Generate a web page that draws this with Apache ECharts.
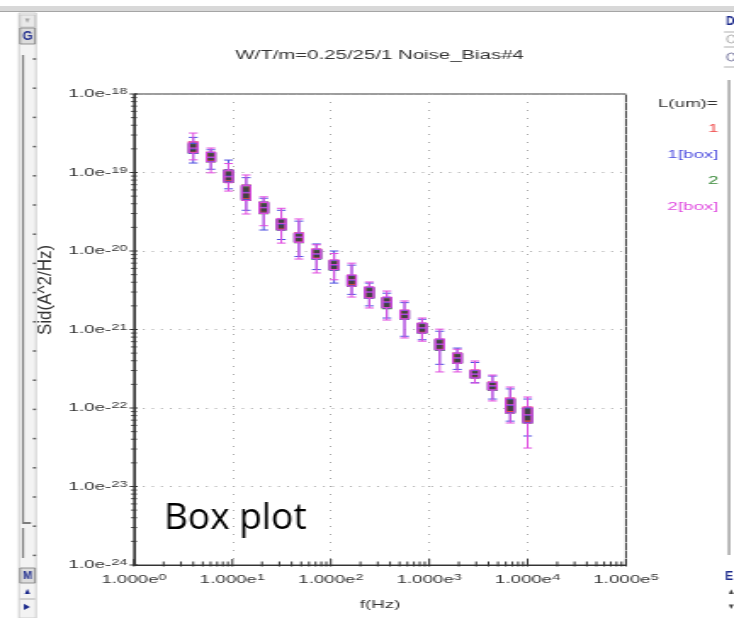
<!DOCTYPE html>
<html>
<head>
<meta charset="utf-8">
<script src="https://cdn.jsdelivr.net/npm/echarts@6/dist/echarts.min.js"></script>
<style>
  html, body { margin: 0; padding: 0; background: #fff; overflow: hidden; }
  #wrap { width: 734px; height: 618px; overflow: hidden; }
  /* the plot window is drawn narrow and widened, as the measurement tool shows it */
  #chart { width: 432px; height: 618px; transform: scaleX(1.699074); transform-origin: 0 0; }
</style>
</head>
<body>
<div id="wrap"><div id="chart"></div></div>
<script>
// horizontal widening of the plot window
const STRETCH = 734 / 432;

// measurement frequencies (Hz)
const freqs = [4, 6.04, 9.12, 13.8, 20.8, 31.4, 47.4, 71.5, 108, 163,
               246, 371, 561, 847, 1279, 1930, 2914, 4400, 6643, 10000];

// L = 1 um, box statistics: [min, Q1, median, Q3, max]  (A^2/Hz)
const boxL1 = [
  [1.32e-19, 1.75e-19, 2.0e-19, 2.35e-19, 2.8e-19],
  [1.1e-19, 1.38e-19, 1.55e-19, 1.8e-19, 1.95e-19],
  [6.2e-20, 7.6e-20, 9.0e-20, 1.08e-19, 1.44e-19],
  [3.3e-20, 4.5e-20, 5.6e-20, 6.9e-20, 8.6e-20],
  [1.85e-20, 3.05e-20, 3.6e-20, 4.2e-20, 4.7e-20],
  [1.4e-20, 1.85e-20, 2.2e-20, 2.55e-20, 3.3e-20],
  [8.5e-21, 1.3e-20, 1.5e-20, 1.68e-20, 2.4e-20],
  [5.8e-21, 7.9e-21, 9.1e-21, 1.05e-20, 1.23e-20],
  [3.9e-21, 5.7e-21, 6.6e-21, 7.6e-21, 1.0e-20],
  [2.8e-21, 3.6e-21, 4.25e-21, 4.9e-21, 6.6e-21],
  [2.0e-21, 2.5e-21, 3.0e-21, 3.45e-21, 3.9e-21],
  [1.4e-21, 1.88e-21, 2.2e-21, 2.55e-21, 2.9e-21],
  [8.2e-22, 1.36e-21, 1.55e-21, 1.75e-21, 2.2e-21],
  [7.4e-22, 9.0e-22, 1.04e-21, 1.2e-21, 1.35e-21],
  [3.6e-22, 5.5e-22, 6.5e-22, 7.5e-22, 9.5e-22],
  [3.1e-22, 3.75e-22, 4.3e-22, 5.0e-22, 5.8e-22],
  [2.1e-22, 2.42e-22, 2.7e-22, 3.0e-22, 3.8e-22],
  [1.3e-22, 1.7e-22, 1.9e-22, 2.12e-22, 2.55e-22],
  [6.8e-23, 8.7e-23, 1.08e-22, 1.3e-22, 1.75e-22],
  [4.4e-23, 6.5e-23, 8.1e-23, 1.0e-22, 1.3e-22]
];

// L = 2 um, box statistics: [min, Q1, median, Q3, max]
const boxL2 = [
  [1.45e-19, 1.78e-19, 2.05e-19, 2.45e-19, 3.18e-19],
  [9.9e-20, 1.36e-19, 1.57e-19, 1.82e-19, 2.05e-19],
  [5.8e-20, 7.4e-20, 8.8e-20, 1.05e-19, 1.3e-19],
  [2.96e-20, 4.4e-20, 5.5e-20, 6.8e-20, 9.3e-20],
  [2.1e-20, 3.0e-20, 3.55e-20, 4.15e-20, 4.9e-20],
  [1.26e-20, 1.85e-20, 2.25e-20, 2.6e-20, 3.5e-20],
  [7.9e-21, 1.28e-20, 1.5e-20, 1.7e-20, 2.56e-20],
  [5.25e-21, 8.0e-21, 9.2e-21, 1.06e-20, 1.2e-20],
  [4.3e-21, 5.8e-21, 6.7e-21, 7.7e-21, 9.3e-21],
  [2.59e-21, 3.55e-21, 4.3e-21, 4.95e-21, 7.0e-21],
  [1.88e-21, 2.52e-21, 3.0e-21, 3.5e-21, 4.03e-21],
  [1.32e-21, 1.9e-21, 2.25e-21, 2.6e-21, 3.09e-21],
  [7.8e-22, 1.36e-21, 1.57e-21, 1.77e-21, 2.31e-21],
  [7.1e-22, 9.0e-22, 1.05e-21, 1.21e-21, 1.4e-21],
  [2.88e-22, 5.5e-22, 6.5e-22, 7.6e-22, 1.01e-21],
  [2.88e-22, 3.7e-22, 4.35e-22, 5.0e-22, 5.6e-22],
  [2.08e-22, 2.4e-22, 2.7e-22, 3.05e-22, 3.97e-22],
  [1.23e-22, 1.69e-22, 1.92e-22, 2.14e-22, 2.63e-22],
  [6.44e-23, 8.6e-23, 1.1e-22, 1.34e-22, 1.85e-22],
  [3.09e-23, 6.4e-23, 8.2e-23, 1.03e-22, 1.38e-22]
];

// raw spread of the measured dies, [low, high]
const rawL1 = [
  [1.8e-19, 2.45e-19], [1.4e-19, 1.8e-19], [7.8e-20, 1.08e-19], [4.6e-20, 6.9e-20],
  [3.1e-20, 4.2e-20], [1.9e-20, 2.55e-20], [1.32e-20, 1.7e-20], [8.1e-21, 1.06e-20],
  [5.8e-21, 7.6e-21], [3.7e-21, 4.9e-21], [2.55e-21, 3.45e-21], [1.9e-21, 2.55e-21],
  [1.38e-21, 1.76e-21], [9.2e-22, 1.2e-21], [5.6e-22, 7.5e-22], [3.8e-22, 5.0e-22],
  [2.45e-22, 3.05e-22], [1.72e-22, 2.14e-22], [9.0e-23, 1.34e-22], [6.8e-23, 1.03e-22]
];
const rawL2 = [
  [1.75e-19, 2.3e-19], [1.36e-19, 1.75e-19], [7.5e-20, 1.02e-19], [4.4e-20, 6.5e-20],
  [3.0e-20, 4.0e-20], [1.84e-20, 2.5e-20], [1.28e-20, 1.65e-20], [7.9e-21, 1.02e-20],
  [5.7e-21, 7.4e-21], [3.55e-21, 4.8e-21], [2.5e-21, 3.35e-21], [1.85e-21, 2.5e-21],
  [1.35e-21, 1.72e-21], [9.0e-22, 1.17e-21], [5.4e-22, 7.3e-22], [3.7e-22, 4.85e-22],
  [2.4e-22, 2.95e-22], [1.68e-22, 2.1e-22], [8.6e-23, 1.28e-22], [6.4e-23, 9.8e-23]
];

// axis ranges (exponents of ten)
const xExpRange = [0, 5];
const yExpRange = [-24, -18];

const seriesNames = ['1', '1[box]', '2', '2[box]'];
const seriesColors = ['#f04a4a', '#5050e0', '#3a8a3a', '#e04ce0'];

// the y axis works in units of 1e-24 A^2/Hz to keep the log scale well inside float range
const UNIT_EXP = yExpRange[0];
const Y_UNIT = Math.pow(10, UNIT_EXP);
const toUnit = v => v / Y_UNIT;

const FONT = '"Liberation Sans", Arial, sans-serif';
const TEXT = '#333';

// decade and 2..9 tick values of a log axis
function logTickValues(lo, hi) {
  const out = [];
  for (let e = lo; e < hi; e++) {
    for (let m = 1; m <= 9; m++) out.push([m * Math.pow(10, e), m === 1 ? 1 : 0]);
  }
  out.push([Math.pow(10, hi), 1]);
  return out;
}
const xMin = Math.pow(10, xExpRange[0]), xMax = Math.pow(10, xExpRange[1]);
const yMin = Math.pow(10, yExpRange[0] - UNIT_EXP), yMax = Math.pow(10, yExpRange[1] - UNIT_EXP);
const xTickData = logTickValues(xExpRange[0], xExpRange[1]).map(t => [t[0], yMin, t[1]]);
const yTickData = logTickValues(yExpRange[0] - UNIT_EXP, yExpRange[1] - UNIT_EXP).map(t => [xMin, t[0], t[1]]);

function expOf(v) { return Math.round(Math.log10(v)); }

const xAxisBase = { type: 'log', logBase: 10, min: xMin, max: xMax, splitNumber: 5, gridIndex: 0 };

// mantissa plus small raised exponent
const labelRich = {
  b: { fontFamily: FONT, fontSize: 11, color: TEXT },
  s: { fontFamily: FONT, fontSize: 8.5, color: TEXT, padding: [0, 0, 4, 0] }
};

// interquartile bar of the raw data
function rawBoxRenderer(fill, stroke) {
  return function (params, api) {
    const lo = api.coord([api.value(0), api.value(1)]);
    const hi = api.coord([api.value(0), api.value(2)]);
    return {
      type: 'rect',
      shape: { x: lo[0] - 2.4, y: hi[1], width: 4.8, height: lo[1] - hi[1] },
      style: { fill: fill, stroke: stroke, lineWidth: 1.2 }
    };
  };
}

function tickRenderer(vertical) {
  return function (params, api) {
    const p = api.coord([api.value(0), api.value(1)]);
    const major = api.value(2) === 1;
    const shape = vertical
      ? { x1: p[0], y1: p[1] - (major ? 6 : 3.5), x2: p[0], y2: p[1] + 1.5 }
      : { x1: p[0] - (major ? 2.6 : 1.7), y1: p[1], x2: p[0] + (major ? 2.2 : 1.7), y2: p[1] };
    return { type: 'line', shape: shape, style: { stroke: '#333', lineWidth: 1 } };
  };
}

// window chrome around the plot, in screen pixels
function chrome() {
  const navy = '#1c2a8c';
  const kids = [
    { type: 'rect', shape: { x: 0, y: 6, width: 734, height: 5 }, style: { fill: '#d8d8d8' } },
    { type: 'line', shape: { x1: 0, y1: 11.5, x2: 734, y2: 11.5 }, style: { stroke: '#8e8e8e', lineWidth: 1 } },
    // left tool strip
    { type: 'rect', shape: { x: 19, y: 13, width: 17, height: 605 }, style: { fill: '#f3f3f3', stroke: '#c4c4c4', lineWidth: 1 } },
    { type: 'rect', shape: { x: 20, y: 15, width: 15, height: 12 }, style: { fill: '#e9e9e9', stroke: '#c0c0c0' } },
    { type: 'text', style: { x: 27.5, y: 21, text: '▼', fill: '#a8a8a8', font: '8px ' + FONT, align: 'center', verticalAlign: 'middle' } },
    { type: 'rect', shape: { x: 20, y: 28, width: 15, height: 16 }, style: { fill: '#dcdcdc', stroke: '#7a7a7a' } },
    { type: 'text', style: { x: 27.5, y: 36.5, text: 'G', fill: navy, font: 'bold 13px ' + FONT, align: 'center', verticalAlign: 'middle' } },
    { type: 'polyline', shape: { points: [[23, 55], [23, 523], [31, 523]] }, style: { stroke: '#7d7d7d', lineWidth: 2 } },
    { type: 'line', shape: { x1: 23, y1: 528, x2: 23, y2: 558 }, style: { stroke: '#7d7d7d', lineWidth: 2 } },
    { type: 'rect', shape: { x: 20, y: 568, width: 15, height: 15 }, style: { fill: '#dcdcdc', stroke: '#7a7a7a' } },
    { type: 'text', style: { x: 27.5, y: 576, text: 'M', fill: navy, font: 'bold 11px ' + FONT, align: 'center', verticalAlign: 'middle' } },
    { type: 'text', style: { x: 27.5, y: 592, text: '▲', fill: navy, font: '9px ' + FONT, align: 'center', verticalAlign: 'middle' } },
    { type: 'line', shape: { x1: 20, y1: 599, x2: 35, y2: 599 }, style: { stroke: '#9a9a9a' } },
    { type: 'text', style: { x: 27.5, y: 607, text: '▶', fill: navy, font: '8px ' + FONT, align: 'center', verticalAlign: 'middle' } },
    // right panel edge
    { type: 'text', style: { x: 726, y: 22, text: 'D', fill: navy, font: 'bold 12px ' + FONT, verticalAlign: 'middle' } },
    { type: 'line', shape: { x1: 724, y1: 32, x2: 734, y2: 32 }, style: { stroke: '#9a9a9a' } },
    { type: 'circle', shape: { cx: 731, cy: 39, r: 4 }, style: { fill: 'none', stroke: '#9a9a9a' } },
    { type: 'line', shape: { x1: 724, y1: 47, x2: 734, y2: 47 }, style: { stroke: '#9a9a9a' } },
    { type: 'circle', shape: { cx: 731, cy: 57, r: 4 }, style: { fill: 'none', stroke: '#5a5a8a' } },
    { type: 'line', shape: { x1: 724, y1: 67, x2: 734, y2: 67 }, style: { stroke: '#9a9a9a' } },
    { type: 'line', shape: { x1: 729, y1: 80, x2: 729, y2: 555 }, style: { stroke: '#8a8a8a', lineWidth: 2 } },
    { type: 'text', style: { x: 725, y: 577, text: 'E', fill: navy, font: 'bold 12px ' + FONT, verticalAlign: 'middle' } },
    { type: 'text', style: { x: 731, y: 592, text: '▲', fill: '#444', font: '8px ' + FONT, align: 'center', verticalAlign: 'middle' } },
    { type: 'text', style: { x: 731, y: 607, text: '▼', fill: '#444', font: '8px ' + FONT, align: 'center', verticalAlign: 'middle' } },
    // y-axis title, upright glyph proportions
    { type: 'text', x: 46, y: 290, rotation: Math.PI / 2,
      style: { x: 0, y: 0, text: 'Sid(A^2/Hz)', fill: TEXT, font: '17px ' + FONT, align: 'center', verticalAlign: 'middle' } },
    // annotation
    { type: 'text', style: { x: 164, y: 500, text: 'Box plot', fill: '#000', font: '37px "Open Sans", "Noto Sans", sans-serif', verticalAlign: 'top' } }
  ];
  for (let y = 59; y < 560; y += 29.2) {
    kids.push({ type: 'line', shape: { x1: 33, y1: y, x2: 36, y2: y }, style: { stroke: '#555', lineWidth: 1.5 } });
  }
  return kids;
}

const chart = echarts.init(document.getElementById('chart'));
chart.setOption({
  animation: false,
  backgroundColor: '#fff',
  title: [
    {
      text: 'W/T/m=0.25/25/1 Noise_Bias#4', left: 218.4, top: 45, textAlign: 'center',
      textStyle: { fontFamily: FONT, fontSize: 12, fontWeight: 'normal', color: TEXT }
    },
    {
      text: 'L(um)=', right: 9.6, top: 98, padding: 0,
      textStyle: { fontFamily: FONT, fontSize: 11, fontWeight: 'normal', color: TEXT }
    }
  ],
  legend: {
    orient: 'vertical', right: 3.2, top: 123, align: 'right', padding: 0,
    itemWidth: 0, itemHeight: 0, itemGap: 15, selectedMode: false,
    textStyle: { fontFamily: FONT, fontSize: 11 },
    data: seriesNames.map((n, i) => ({ name: n, icon: 'rect', textStyle: { color: seriesColors[i] } }))
  },
  grid: {
    left: 134 / STRETCH, right: (734 - 626) / STRETCH, top: 94, bottom: 53,
    show: true, borderColor: '#3a3a3a', borderWidth: 1, backgroundColor: 'transparent'
  },
  xAxis: [
    Object.assign({}, xAxisBase, {
      name: 'f(Hz)', nameLocation: 'middle', nameGap: 34,
      nameTextStyle: { fontFamily: FONT, fontSize: 11, color: TEXT },
      axisLine: { show: true, lineStyle: { color: '#333', width: 1 } },
      axisTick: { show: false },
      axisLabel: {
        margin: 8,
        formatter: v => '{b|1.000e}{s|' + expOf(v) + '}',
        rich: labelRich
      },
      splitLine: { show: true, lineStyle: { color: '#a8a8a8', type: [1, 7], width: 1 } }
    }),
    Object.assign({}, xAxisBase, { show: false })
  ],
  yAxis: {
    type: 'log', logBase: 10, min: yMin, max: yMax, splitNumber: 6,
    axisLine: { show: true, lineStyle: { color: '#333', width: 1 } },
    axisTick: { show: false },
    axisLabel: {
      margin: 4,
      formatter: v => '{b|1.0e-}{s|' + Math.abs(expOf(v) + UNIT_EXP) + '}',
      rich: labelRich
    },
    splitLine: { show: true, lineStyle: { color: '#a8a8a8', type: [1, 4.3], width: 1 } }
  },
  series: [
    {
      name: '2', type: 'custom', xAxisIndex: 0, yAxisIndex: 0, z: 2,
      encode: { x: 0, y: [1, 2] },
      renderItem: rawBoxRenderer('#3b5440', seriesColors[2]),
      data: freqs.map((f, i) => [f, toUnit(rawL2[i][0]), toUnit(rawL2[i][1])])
    },
    {
      name: '1', type: 'custom', xAxisIndex: 0, yAxisIndex: 0, z: 3,
      encode: { x: 0, y: [1, 2] },
      renderItem: rawBoxRenderer('rgba(70,52,72,0.6)', seriesColors[0]),
      data: freqs.map((f, i) => [f, toUnit(rawL1[i][0]), toUnit(rawL1[i][1])])
    },
    {
      name: '1[box]', type: 'boxplot', xAxisIndex: 0, yAxisIndex: 0, z: 4,
      boxWidth: [5.2, 5.2],
      itemStyle: { color: 'rgba(0,0,0,0)', borderColor: seriesColors[1], borderWidth: 1 },
      emphasis: { disabled: true },
      data: freqs.map((f, i) => [f].concat(boxL1[i].map(toUnit)))
    },
    {
      name: '2[box]', type: 'boxplot', xAxisIndex: 1, yAxisIndex: 0, z: 5,
      boxWidth: [5.2, 5.2],
      itemStyle: { color: 'rgba(0,0,0,0)', borderColor: seriesColors[3], borderWidth: 1 },
      emphasis: { disabled: true },
      data: freqs.map((f, i) => [f].concat(boxL2[i].map(toUnit)))
    },
    {
      type: 'custom', xAxisIndex: 0, yAxisIndex: 0, z: 6, silent: true, clip: false,
      encode: { x: 0, y: 1 }, renderItem: tickRenderer(true), data: xTickData
    },
    {
      type: 'custom', xAxisIndex: 0, yAxisIndex: 0, z: 6, silent: true, clip: false,
      encode: { x: 0, y: 1 }, renderItem: tickRenderer(false), data: yTickData
    }
  ],
  graphic: [
    { type: 'group', x: 0, y: 0, scaleX: 1 / STRETCH, silent: true, children: chrome() }
  ]
});
</script>
</body>
</html>
